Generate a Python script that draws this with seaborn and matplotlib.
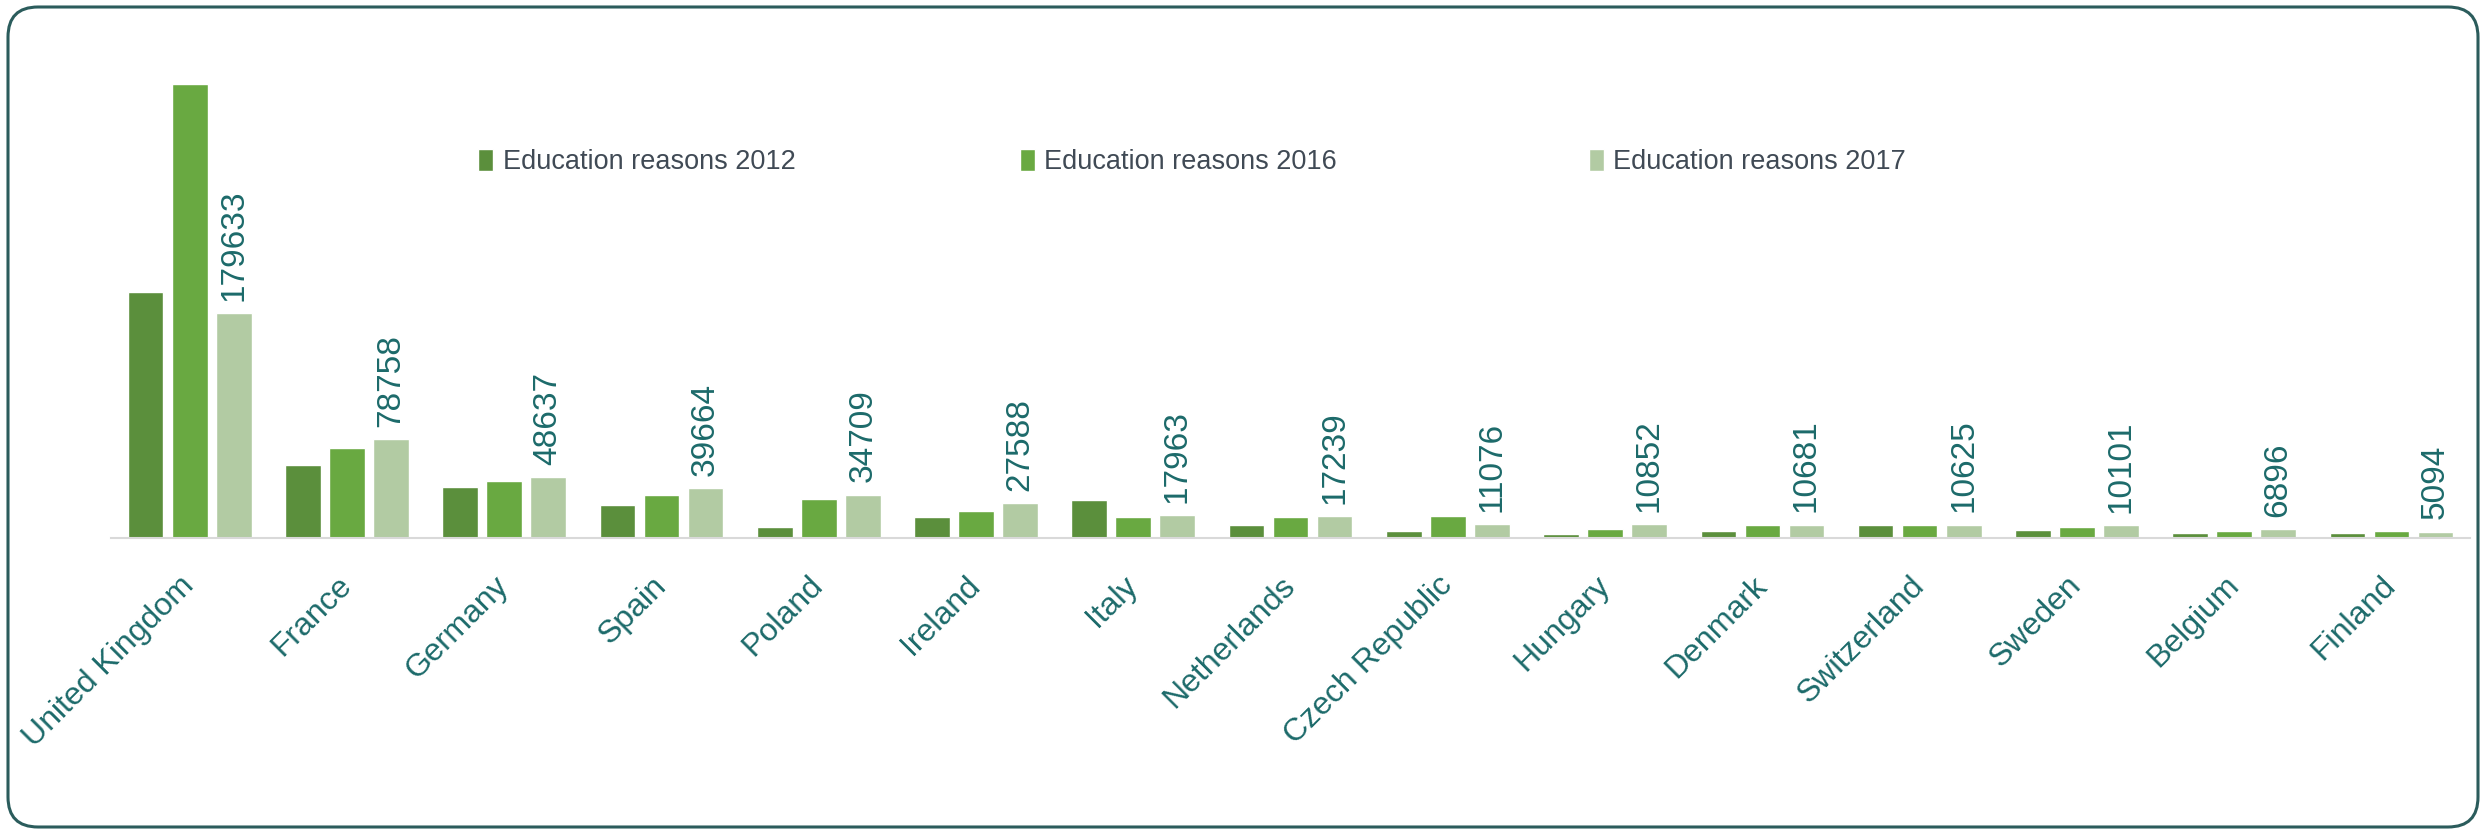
import pandas as pd
import matplotlib.pyplot as plt
import seaborn as sns
from matplotlib.patches import FancyBboxPatch

# dati
countries = ["United Kingdom", "France", "Germany", "Spain", "Poland", "Ireland", "Italy",
             "Netherlands", "Czech Republic", "Hungary", "Denmark", "Switzerland",
             "Sweden", "Belgium", "Finland"]
edu_2012 = [197000, 58000, 40500, 26500, 9000, 16500, 30500, 10000, 5800, 3300, 5800, 10300, 6000, 4000, 4000]
edu_2016 = [363000, 72000, 45500, 34000, 31500, 21500, 16500, 16500, 17500, 7400, 10100, 10300, 9000, 5500, 5500]
edu_2017 = [179633, 78758, 48637, 39664, 34709, 27588, 17963, 17239, 11076, 10852, 10681, 10625, 10101, 6896, 5094]
series_names = ["Education reasons 2012", "Education reasons 2016", "Education reasons 2017"]
colors = ["#5b8f3c", "#69a941", "#b2cba3"]

df = pd.DataFrame({"Country": countries,
                   series_names[0]: edu_2012,
                   series_names[1]: edu_2016,
                   series_names[2]: edu_2017})
long_df = df.melt(id_vars="Country", var_name="Series", value_name="Value")

sns.set_theme(style="white")
plt.rcParams["font.family"] = ["Liberation Sans", "DejaVu Sans"]

teal = "#1c6a6a"
fig = plt.figure(figsize=(24.84, 8.34), dpi=100)

# cornice arrotondata
bg = fig.add_axes([0, 0, 1, 1])
bg.set_xlim(0, 2484)
bg.set_ylim(0, 834)
bg.axis("off")
bg.add_patch(FancyBboxPatch((8, 7), 2470, 820, boxstyle="round,pad=0,rounding_size=30",
                            fill=False, edgecolor="#2b5c5c", linewidth=2.2))

ax = fig.add_axes([0.0447, 0.355, 0.9497, 0.544])
sns.barplot(data=long_df, x="Country", y="Value", hue="Series", hue_order=series_names,
            palette=colors, width=0.84, gap=0.19, errorbar=None, saturation=1, ax=ax)

ax.set_xlim(-0.5, len(countries) - 0.5)
ax.set_ylim(0, max(edu_2016))
ax.set_xlabel("")
ax.set_ylabel("")
ax.set_yticks([])
for s in ["top", "right", "left"]:
    ax.spines[s].set_visible(False)
ax.spines["bottom"].set_color("#d9d9d9")
ax.spines["bottom"].set_linewidth(1.5)
ax.patch.set_alpha(0)

ax.tick_params(axis="x", length=0, pad=31)
ax.set_xticks(range(len(countries)))
ax.set_xticklabels(countries, rotation=45, ha="right", va="center",
                   rotation_mode="anchor", color=teal, fontsize=23)

# etichette valori sopra le barre 2017
ax.bar_label(ax.containers[2], labels=[str(v) for v in edu_2017], rotation=90,
             padding=9, color=teal, fontsize=24)

# legenda: tre voci distribuite come nell'originale
handles, labels = ax.get_legend_handles_labels()
ax.get_legend().remove()
for h, lab, x in zip(handles, labels, [0.1925, 0.4106, 0.6396]):
    fig.legend([h], [lab], loc="center left", bbox_to_anchor=(x, 0.806),
               frameon=False, fontsize=19.5, labelcolor="#404a55", handlelength=0.55,
               handleheight=0.9, handletextpad=0.35, borderpad=0, borderaxespad=0)

plt.savefig("out.png", dpi=100)
